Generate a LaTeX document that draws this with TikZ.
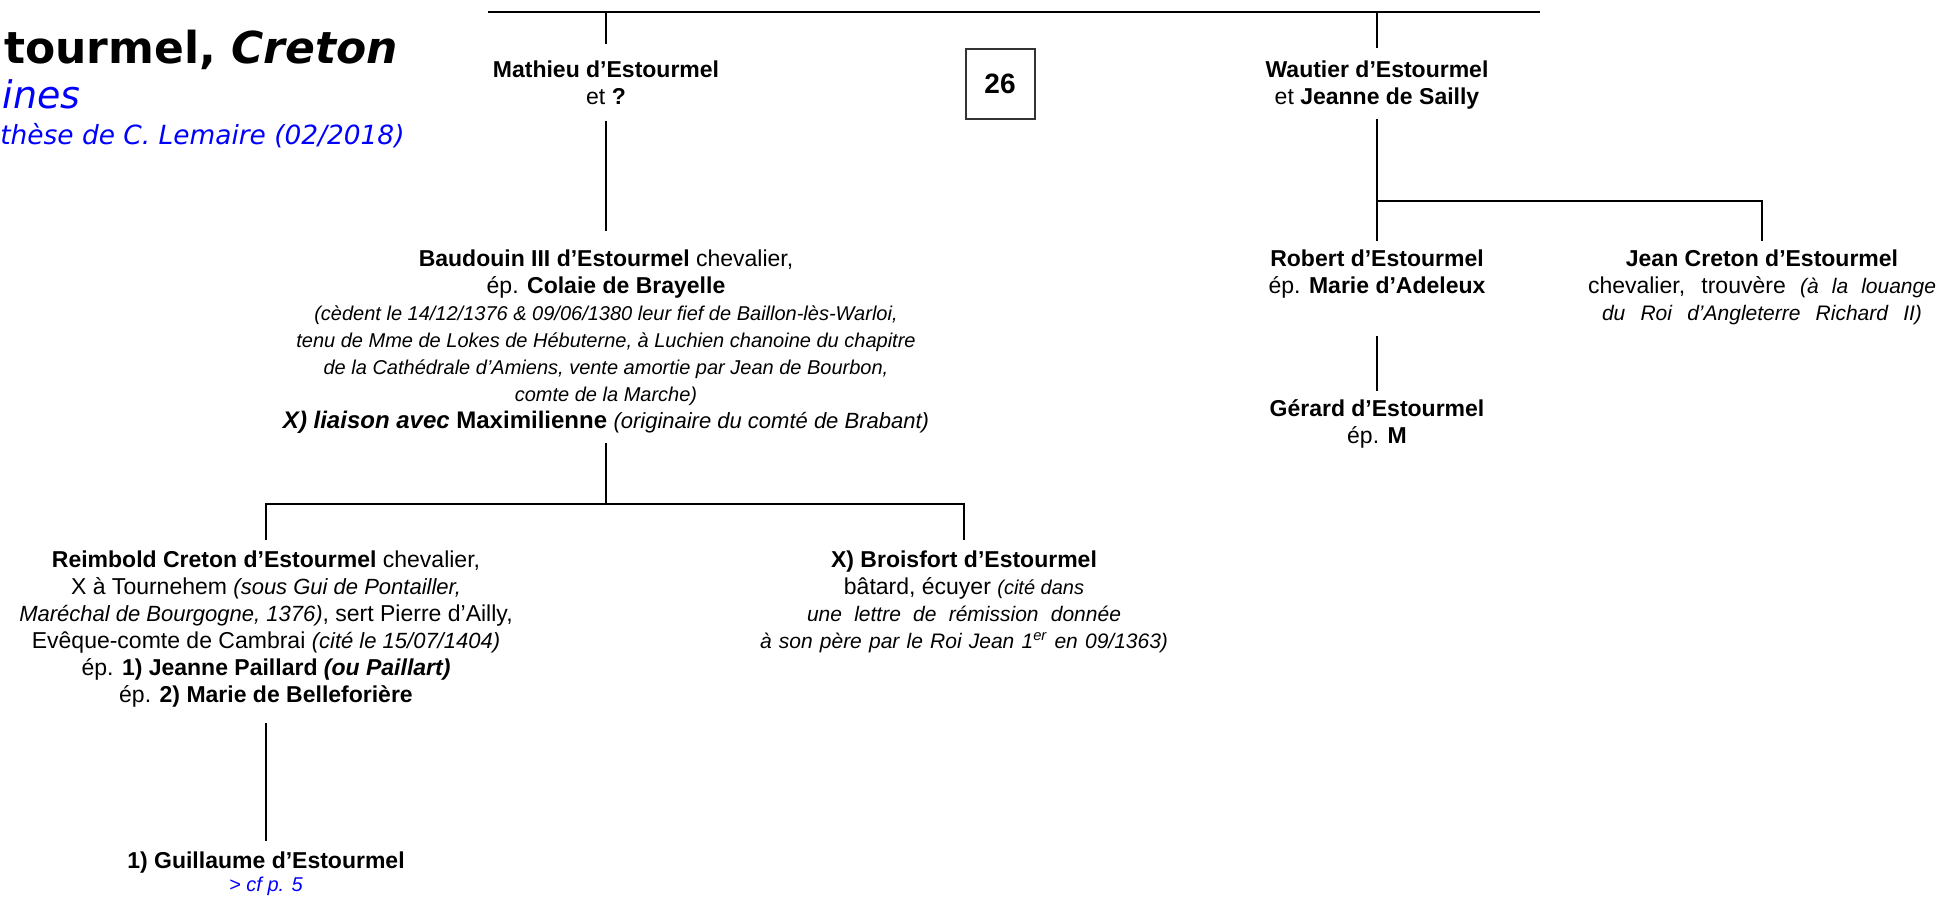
\documentclass[tikz,border=0pt]{standalone}
\usepackage{fontspec}
\setmainfont{Liberation Sans}
\newfontfamily\titlefont{DejaVu Sans}
\usetikzlibrary{positioning}

\newcommand{\nota}[2][10]{{\fontsize{#1}{13.5}\selectfont\itshape #2}}
\newcommand{\riga}[2]{\makebox[#1][s]{#2}}

\begin{document}
\begin{tikzpicture}[x=0.5pt, y=-0.5pt]
	% Stili comuni
	\tikzset{
		persona/.style={
			align=center,
			anchor=north,
			inner xsep=0pt,
			inner ysep=5pt,
			font=\fontsize{11.5}{13.5}\selectfont
		},
		legame/.style={line width=1pt},
		titolo/.style={anchor=base east, inner sep=0pt}
	}
	\useasboundingbox (0,0) rectangle (1936,899);
	\clip (0,0) rectangle (1936,899);

	% Titolo (tagliato a sinistra)
	\node[titolo, font=\titlefont\fontsize{22}{26}\selectfont\bfseries] (titolo) at (398,64) {tourmel, \textit{Creton}};
	\node[titolo, font=\titlefont\fontsize{19}{22}\selectfont\itshape, text=blue] (sottotitolo) at (81,109) {ines};
	\node[titolo, anchor=base west, font=\titlefont\fontsize{13.2}{16}\selectfont\itshape, text=blue] (fonte) at (0,144) {thèse de C. Lemaire (02/2018)};

	% Numero di pagina
	\node[draw=black!80, line width=1pt, minimum width=34.5pt, minimum height=35pt, font=\fontsize{14}{16}\selectfont\bfseries] (pagina) at (1000,84) {26};

	% Persone
	\node[persona] (mathieu) at (606,50) {\textbf{Mathieu d’Estourmel}\\et \textbf{?}};
	\node[persona] (wautier) at (1377,50) {\textbf{Wautier d’Estourmel}\\et \textbf{Jeanne de Sailly}};
	\node[persona] (baudouin) at (606,239) {\textbf{Baudouin III d’Estourmel} chevalier,\\ép. \textbf{Colaie de Brayelle}\\
		\nota{(cèdent le 14/12/1376 \& 09/06/1380 leur fief de Baillon-lès-Warloi,}\\
		\nota{tenu de Mme de Lokes de Hébuterne, à Luchien chanoine du chapitre}\\
		\nota{de la Cathédrale d’Amiens, vente amortie par Jean de Bourbon,}\\
		\nota{comte de la Marche)}\\
		{\fontsize{12}{13.5}\selectfont\textbf{\textit{X) liaison avec} Maximilienne}} \nota[11]{(originaire du comté de Brabant)}};
	\node[persona] (robert) at (1377,239) {\textbf{Robert d’Estourmel}\\ép. \textbf{Marie d’Adeleux}};
	\node[persona] (jean) at (1762,239) {\textbf{Jean Creton d’Estourmel}\\
		\riga{174pt}{chevalier, trouvère \nota[10.5]{(à la louange}}\\
		\riga{160pt}{\nota[10.5]{du Roi d’Angleterre Richard II)}}};
	\node[persona] (gerard) at (1377,389) {\textbf{Gérard d’Estourmel}\\ép. \textbf{M}};
	\node[persona] (reimbold) at (266,540) {\textbf{Reimbold Creton d’Estourmel} chevalier,\\
		X à Tournehem \nota[11]{(sous Gui de Pontailler,}\\
		\nota[11]{Maréchal de Bourgogne, 1376)}, sert Pierre d’Ailly,\\
		Evêque-comte de Cambrai \nota[11]{(cité le 15/07/1404)}\\
		ép. \textbf{1) Jeanne Paillard \textit{(ou Paillart)}}\\
		ép. \textbf{2) Marie de Belleforière}};
	\node[persona] (broisfort) at (964,540) {\textbf{X) Broisfort d’Estourmel}\\bâtard, écuyer \nota{(cité dans}\\
		\riga{157pt}{\nota[10.5]{une lettre de rémission donnée}}\\
		\riga{204pt}{\nota[10.5]{à son père par le Roi Jean 1\textsuperscript{er} en 09/1363)}}};
	\node[persona] (guillaume) at (266,841) {\textbf{1) Guillaume d’Estourmel}\\[-2pt]\textcolor{blue}{\nota{> cf p. 5}}};

	% Barra superiore e biforcazioni
	\coordinate (topL) at (488,12);
	\coordinate (topR) at (1540,12);
	\coordinate (forkW) at (1377,201);
	\coordinate (forkB) at (606,504);
	\draw[line width=1.4pt] (topL) -- (topR);

	% Collegamenti
	\draw[legame] (mathieu.north |- topL) -- ([yshift=3pt]mathieu.north);
	\draw[legame] (wautier.north |- topL) -- ([yshift=1pt]wautier.north);
	\draw[legame, shorten <=3pt, shorten >=4pt] (mathieu.south) -- (baudouin.north);
	\draw[legame] (wautier.south) -- (forkW);
	\draw[legame] ([yshift=-1pt]robert.north) -- (robert.north |- forkW) -| ([yshift=-1pt]jean.north);
	\draw[legame, shorten <=14pt, shorten >=-1pt] (robert.south) -- (gerard.north);
	\draw[legame] (baudouin.south) -- (forkB);
	\draw[legame] (reimbold.north) -- (reimbold.north |- forkB) -| (broisfort.north);
	\draw[legame, shorten <=3pt] (reimbold.south) -- (guillaume.north);
\end{tikzpicture}
\end{document}
